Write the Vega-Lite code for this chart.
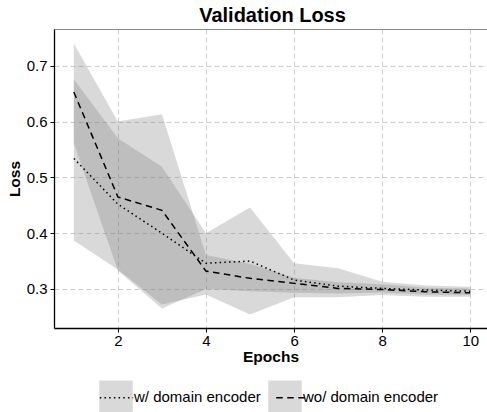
{
  "$schema": "https://vega.github.io/schema/vega-lite/v6.json",
  "width": 433,
  "height": 299,
  "autosize": {"type": "none"},
  "padding": {"left": 54, "top": 29, "right": 0, "bottom": 84},
  "background": "white",
  "title": {"text": "Validation Loss", "fontSize": 20, "fontWeight": "bold", "font": "Liberation Sans", "anchor": "middle", "offset": 3, "dx": 2, "color": "black"},
  "config": {
    "view": {"stroke": null},
    "font": "Liberation Sans"
  },
  "resolve": {"axis": {"x": "independent"}},
  "datasets": {
    "bands": [
      {"epoch": 1, "encoder": "w/ domain encoder", "lo": 0.387, "hi": 0.676},
      {"epoch": 2, "encoder": "w/ domain encoder", "lo": 0.335, "hi": 0.570},
      {"epoch": 3, "encoder": "w/ domain encoder", "lo": 0.272, "hi": 0.519},
      {"epoch": 4, "encoder": "w/ domain encoder", "lo": 0.290, "hi": 0.400},
      {"epoch": 5, "encoder": "w/ domain encoder", "lo": 0.254, "hi": 0.446},
      {"epoch": 6, "encoder": "w/ domain encoder", "lo": 0.285, "hi": 0.346},
      {"epoch": 7, "encoder": "w/ domain encoder", "lo": 0.285, "hi": 0.337},
      {"epoch": 8, "encoder": "w/ domain encoder", "lo": 0.289, "hi": 0.313},
      {"epoch": 9, "encoder": "w/ domain encoder", "lo": 0.286, "hi": 0.306},
      {"epoch": 10, "encoder": "w/ domain encoder", "lo": 0.286, "hi": 0.304},
      {"epoch": 1, "encoder": "wo/ domain encoder", "lo": 0.561, "hi": 0.740},
      {"epoch": 2, "encoder": "wo/ domain encoder", "lo": 0.333, "hi": 0.600},
      {"epoch": 3, "encoder": "wo/ domain encoder", "lo": 0.265, "hi": 0.613},
      {"epoch": 4, "encoder": "wo/ domain encoder", "lo": 0.300, "hi": 0.361},
      {"epoch": 5, "encoder": "wo/ domain encoder", "lo": 0.296, "hi": 0.345},
      {"epoch": 6, "encoder": "wo/ domain encoder", "lo": 0.293, "hi": 0.320},
      {"epoch": 7, "encoder": "wo/ domain encoder", "lo": 0.292, "hi": 0.312},
      {"epoch": 8, "encoder": "wo/ domain encoder", "lo": 0.2935, "hi": 0.3085},
      {"epoch": 9, "encoder": "wo/ domain encoder", "lo": 0.290, "hi": 0.302},
      {"epoch": 10, "encoder": "wo/ domain encoder", "lo": 0.289, "hi": 0.301}
    ],
    "lines": [
      {"epoch": 1, "method": "w/ domain encoder", "loss": 0.534},
      {"epoch": 2, "method": "w/ domain encoder", "loss": 0.452},
      {"epoch": 3, "method": "w/ domain encoder", "loss": 0.400},
      {"epoch": 4, "method": "w/ domain encoder", "loss": 0.346},
      {"epoch": 5, "method": "w/ domain encoder", "loss": 0.350},
      {"epoch": 6, "method": "w/ domain encoder", "loss": 0.316},
      {"epoch": 7, "method": "w/ domain encoder", "loss": 0.305},
      {"epoch": 8, "method": "w/ domain encoder", "loss": 0.301},
      {"epoch": 9, "method": "w/ domain encoder", "loss": 0.298},
      {"epoch": 10, "method": "w/ domain encoder", "loss": 0.296},
      {"epoch": 1, "method": "wo/ domain encoder", "loss": 0.653},
      {"epoch": 2, "method": "wo/ domain encoder", "loss": 0.465},
      {"epoch": 3, "method": "wo/ domain encoder", "loss": 0.441},
      {"epoch": 4, "method": "wo/ domain encoder", "loss": 0.332},
      {"epoch": 5, "method": "wo/ domain encoder", "loss": 0.319},
      {"epoch": 6, "method": "wo/ domain encoder", "loss": 0.310},
      {"epoch": 7, "method": "wo/ domain encoder", "loss": 0.301},
      {"epoch": 8, "method": "wo/ domain encoder", "loss": 0.299},
      {"epoch": 9, "method": "wo/ domain encoder", "loss": 0.295},
      {"epoch": 10, "method": "wo/ domain encoder", "loss": 0.293}
    ]
  },
  "layer": [
    {
      "data": {"name": "bands"},
      "mark": {"type": "area", "opacity": 0.3, "clip": true},
      "encoding": {
        "x": {
          "field": "epoch", "type": "quantitative",
          "scale": {"domain": [0.55, 10.38], "nice": false, "zero": false},
          "axis": {
            "title": "Epochs", "values": [2, 4, 6, 8, 10], "grid": true,
            "gridColor": "#cccccc", "gridDash": [5, 3], "gridWidth": 1,
            "domainColor": "black", "domainWidth": 1.3,
            "tickColor": "black", "tickSize": 4, "tickWidth": 1,
            "labelFontSize": 15, "labelColor": "black", "labelPadding": 1, "labelFlush": false,
            "labelFont": "Liberation Sans",
            "titleFont": "Liberation Sans", "titleFontSize": 15.5, "titleFontWeight": "bold",
            "titleColor": "black", "titlePadding": 1
          }
        },
        "y": {
          "field": "lo", "type": "quantitative",
          "scale": {"domain": [0.23, 0.766], "nice": false, "zero": false},
          "axis": {
            "title": "Loss", "values": [0.3, 0.4, 0.5, 0.6, 0.7], "format": ".1f", "grid": true,
            "gridColor": "#cccccc", "gridDash": [5, 3], "gridWidth": 1,
            "domainColor": "black", "domainWidth": 1.3,
            "tickColor": "black", "tickSize": 4, "tickWidth": 1,
            "labelFontSize": 15, "labelColor": "black", "labelPadding": 3, "labelFlush": false,
            "labelFont": "Liberation Sans",
            "titleFont": "Liberation Sans", "titleFontSize": 15.5, "titleFontWeight": "bold",
            "titleColor": "black", "titlePadding": 4
          }
        },
        "y2": {"field": "hi"},
        "fill": {
          "field": "encoder", "type": "nominal",
          "scale": {"range": ["#808080", "#808080"]},
          "legend": {
            "orient": "none", "legendX": 45, "legendY": 351, "direction": "horizontal",
            "title": null, "symbolType": "square", "symbolSize": 1122,
            "symbolStrokeWidth": 0, "symbolOpacity": 0.3,
            "labelColor": "black", "labelFontSize": 15, "labelFont": "Liberation Sans",
            "labelOffset": 1, "columnPadding": 7, "padding": 0
          }
        }
      }
    },
    {
      "data": {"name": "lines"},
      "mark": {"type": "line", "color": "black", "strokeWidth": 1.5, "clip": true},
      "encoding": {
        "x": {
          "field": "epoch", "type": "quantitative",
          "axis": {"orient": "top", "title": null, "labels": false, "ticks": false, "grid": false, "domainColor": "#888888", "domainWidth": 1}
        },
        "y": {"field": "loss", "type": "quantitative"},
        "strokeDash": {
          "field": "method", "type": "nominal",
          "scale": {"range": [[1.5, 3.2], [6.5, 4.5]]},
          "legend": {
            "orient": "none", "legendX": 45, "legendY": 351, "direction": "horizontal",
            "title": null, "symbolType": "stroke", "symbolSize": 1122,
            "symbolStrokeColor": "black", "symbolStrokeWidth": 1.5,
            "labelExpr": "''", "labelFontSize": 15, "labelOffset": 0,
            "columnPadding": 135.5, "padding": 0
          }
        }
      }
    }
  ]
}
